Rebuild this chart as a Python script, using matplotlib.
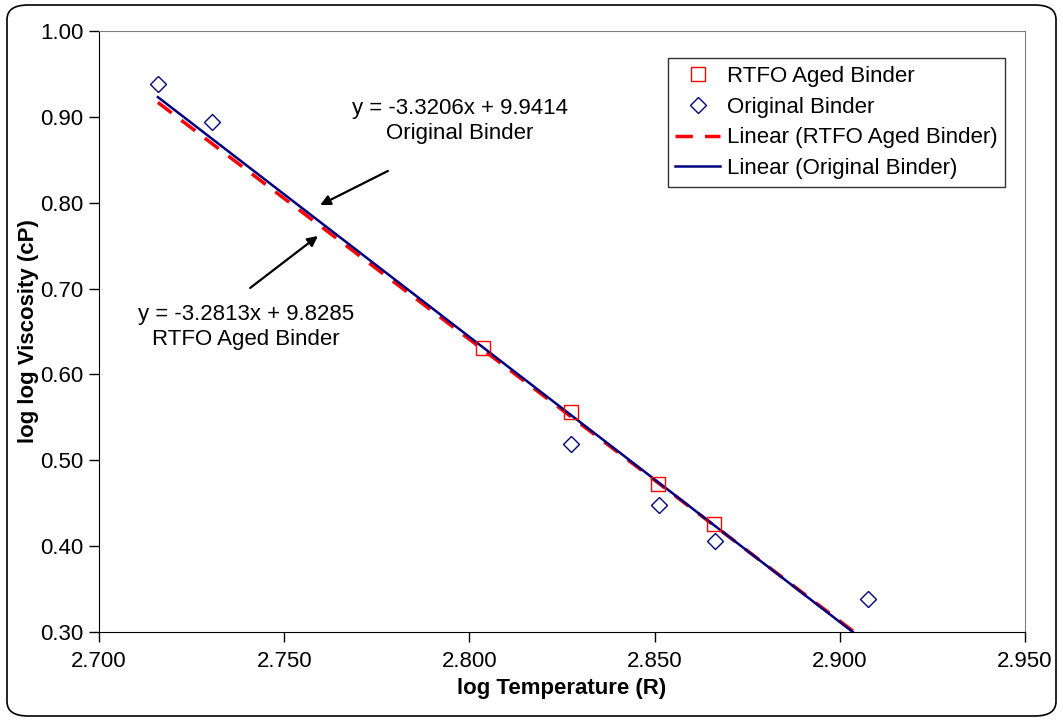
import numpy as np
import matplotlib.pyplot as plt
from matplotlib.patches import FancyBboxPatch

plt.rcParams['font.family'] = ['Liberation Sans', 'DejaVu Sans']

# measured binder data
rtfo_x = [2.8037, 2.8274, 2.8509, 2.8660]
rtfo_y = [0.6308, 0.5563, 0.4724, 0.4258]
orig_x = [2.7159, 2.7305, 2.8274, 2.8512, 2.8663, 2.9076]
orig_y = [0.9383, 0.8940, 0.5190, 0.4480, 0.4060, 0.3385]

# fitted trend lines (slope, intercept)
rtfo_fit = (-3.2813, 9.8285)
orig_fit = (-3.3206, 9.9414)

fs = 16

fig = plt.figure(figsize=(10.63, 7.21), dpi=100)
ax = fig.add_axes([99 / 1063, 1 - 632 / 721, (1025 - 99) / 1063, (632 - 31) / 721])

xl = np.array([min(orig_x), max(orig_x)])
ax.plot(rtfo_x, rtfo_y, 's', ms=10, mfc='none', mec='#ff0000', mew=1.0,
        label='RTFO Aged Binder', zorder=4)
ax.plot(orig_x, orig_y, 'D', ms=8, mfc='none', mec='#000080', mew=1.0,
        label='Original Binder', zorder=4)
ax.plot(xl, rtfo_fit[0] * xl + rtfo_fit[1], color='#ff0000', lw=2.5,
        dashes=(5, 3.5), label='Linear (RTFO Aged Binder)', zorder=3)
ax.plot(xl, orig_fit[0] * xl + orig_fit[1], color='#000080', lw=1.8,
        label='Linear (Original Binder)', zorder=3)

ax.set_xlim(2.700, 2.950)
ax.set_ylim(0.30, 1.00)
ax.set_xticks(np.arange(2.700, 2.951, 0.050))
ax.set_yticks(np.arange(0.30, 1.001, 0.10))
ax.xaxis.set_major_formatter(plt.FormatStrFormatter('%.3f'))
ax.yaxis.set_major_formatter(plt.FormatStrFormatter('%.2f'))
ax.tick_params(direction='out', length=7, width=1, labelsize=fs)
ax.tick_params(axis='x', pad=7)
ax.tick_params(axis='y', pad=4)
for s in ['top', 'right']:
    ax.spines[s].set_color('#808080')
for s in ['left', 'bottom']:
    ax.spines[s].set_color('black')

ax.set_xlabel('log Temperature (R)', fontsize=fs, fontweight='bold', labelpad=4)
ax.set_ylabel('log log Viscosity (cP)', fontsize=fs, fontweight='bold', labelpad=1)

# equation labels with arrows pointing at the trend lines
arrow = dict(arrowstyle='-|>', color='black', lw=1.6, mutation_scale=15,
             shrinkA=0, shrinkB=0)
ax.text(2.7975, 0.8952, 'y = -3.3206x + 9.9414\nOriginal Binder', fontsize=fs,
        ha='center', va='center', linespacing=1.3)
ax.annotate('', xy=(2.7597, 0.7973), xytext=(2.7780, 0.8370), arrowprops=arrow)
ax.text(2.7397, 0.6553, 'y = -3.2813x + 9.8285\nRTFO Aged Binder', fontsize=fs,
        ha='center', va='center', linespacing=1.3)
ax.annotate('', xy=(2.7591, 0.7612), xytext=(2.7408, 0.7007), arrowprops=arrow)

leg = ax.legend(loc='upper right', bbox_to_anchor=(1005 / 1063, 1 - 58 / 721),
                bbox_transform=fig.transFigure, fontsize=fs, frameon=True,
                fancybox=False, edgecolor='black', handlelength=2.0,
                handletextpad=0.3, borderpad=0.35, labelspacing=0.44,
                borderaxespad=0)
leg.get_frame().set_linewidth(1.0)

fig.patches.append(FancyBboxPatch((7 / 1063, 5 / 721), 1049 / 1063, 711 / 721,
                                  boxstyle='round,pad=0,rounding_size=0.02',
                                  transform=fig.transFigure, fill=False,
                                  edgecolor='black', lw=1.2))

fig.savefig('out.png', dpi=100)
